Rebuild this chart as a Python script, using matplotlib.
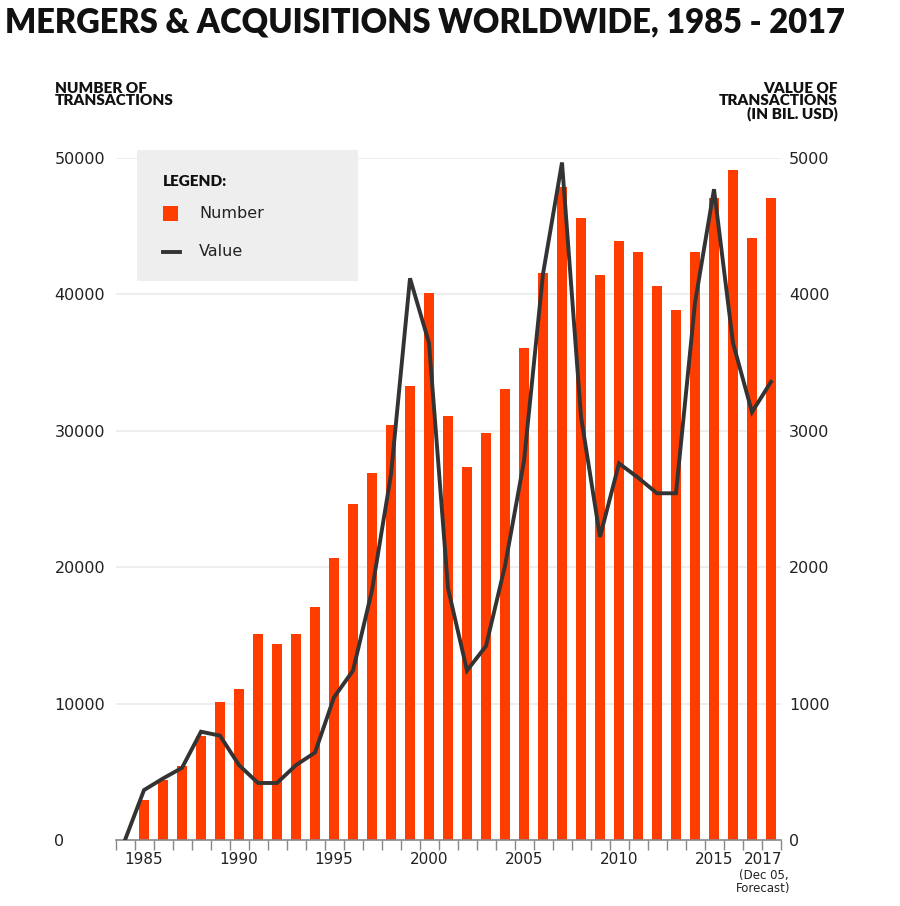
import matplotlib
matplotlib.use("Agg")
import matplotlib.pyplot as plt
from matplotlib.patches import Rectangle
from matplotlib.lines import Line2D

bar_years = list(range(1985, 2019))
numbers = [2900, 4400, 5400, 7650, 10100, 11100, 15100, 14400, 15100, 17100,
           20650, 24600, 26900, 30400, 33300, 40100, 31100, 27350, 29870, 33100,
           36100, 41600, 47900, 45600, 41400, 43900, 43100, 40600, 38860, 43100,
           47100, 49150, 44100, 47100]
line_years = list(range(1984, 2019))
values = [0, 366, 451, 529, 794, 765, 549, 418, 418, 549, 641, 1046, 1242, 1830,
          2680, 4118, 3644, 1846, 1242, 1422, 2010, 2778, 4150, 4967, 3105, 2222,
          2761, 2657, 2542, 2542, 3938, 4771, 3644, 3137, 3359]
xtick_pos = [1985, 1990, 1995, 2000, 2005, 2010, 2015, 2017.6]
xtick_labels = ["1985", "1990", "1995", "2000", "2005", "2010", "2015", "2017"]
left_ticks = [0, 10000, 20000, 30000, 40000, 50000]
right_ticks = [0, 1000, 2000, 3000, 4000, 5000]

W, H = 900, 906
fig = plt.figure(figsize=(9, 9.06), dpi=100)
ax = fig.add_axes([115.5 / W, (H - 840) / H, 665 / W, 682 / H])
ax2 = ax.twinx()

BAR = "#FF3D00"
ax.bar(bar_years, numbers, width=0.57, color=BAR, zorder=2)
ax.set_xlim(1983.5, 2018.5)
ax.set_ylim(0, 50000)
ax2.set_ylim(0, 5000)
ax2.plot(line_years, values, color="#333333", lw=2.8, solid_joinstyle="miter", zorder=3)

for y in left_ticks[1:]:
    ax.axhline(y, color="#EBEBEB", lw=1.2, zorder=0)

for a in (ax, ax2):
    for s in ("top", "left", "right"):
        a.spines[s].set_visible(False)
ax.spines["bottom"].set_color("#888888")
ax.spines["bottom"].set_linewidth(1.2)
ax2.spines["bottom"].set_visible(False)

ax.set_yticks(left_ticks)
ax.set_yticklabels([str(t) for t in left_ticks], ha="left", fontsize=11.5, color="#222222")
ax.tick_params(axis="y", length=0, pad=44)
ax2.set_yticks(right_ticks)
ax2.set_yticklabels([str(t) for t in right_ticks], fontsize=11.5, color="#222222")
ax2.tick_params(axis="y", length=0, pad=6)

ax.set_xticks(xtick_pos)
ax.set_xticklabels(xtick_labels, fontsize=11, color="#222222")
ax.set_xticks([y - 0.5 for y in line_years] + [2018.5], minor=True)
ax.tick_params(axis="x", which="major", length=0, pad=9)
ax.tick_params(axis="x", which="minor", length=7, color="#888888", width=1)
ax.text(2017.6, -2150, "(Dec 05,\nForecast)", ha="center", va="top", fontsize=8.5,
        color="#222222", linespacing=0.95)

fig.text(5 / W, 1 - 22 / H, "MERGERS & ACQUISITIONS WORLDWIDE, 1985 - 2017",
         fontsize=23.5, fontweight="heavy", family="Lato", va="center", ha="left", color="#111111")
fig.text(55 / W, 1 - 82 / H, "NUMBER OF\nTRANSACTIONS", fontsize=11, fontweight="heavy",
         family="Lato", va="top", ha="left", linespacing=0.95, color="#111111")
fig.text(838 / W, 1 - 82 / H, "VALUE OF\nTRANSACTIONS\n(IN BIL. USD)", fontsize=11,
         fontweight="heavy", family="Lato", va="top", ha="right", linespacing=0.95, color="#111111")

# legend box
fig.patches.append(Rectangle((137 / W, 1 - 281 / H), 221 / W, 131 / H, transform=fig.transFigure,
                             facecolor="#EEEEEE", edgecolor="none", zorder=5))
fig.text(163 / W, 1 - 181 / H, "LEGEND:", fontsize=11, fontweight="heavy", family="Lato",
         va="center", ha="left", zorder=6, color="#111111")
fig.patches.append(Rectangle((163 / W, 1 - 221 / H), 15 / W, 15 / H, transform=fig.transFigure,
                             facecolor=BAR, edgecolor="none", zorder=6))
fig.text(199 / W, 1 - 214 / H, "Number", fontsize=11.5, va="center", ha="left", zorder=6, color="#222222")
fig.lines.append(Line2D([163 / W, 180 / W], [1 - 252 / H, 1 - 252 / H], transform=fig.transFigure,
                        color="#333333", lw=2.8, zorder=6))
fig.text(199 / W, 1 - 252 / H, "Value", fontsize=11.5, va="center", ha="left", zorder=6, color="#222222")

fig.savefig("out.png", dpi=100)
